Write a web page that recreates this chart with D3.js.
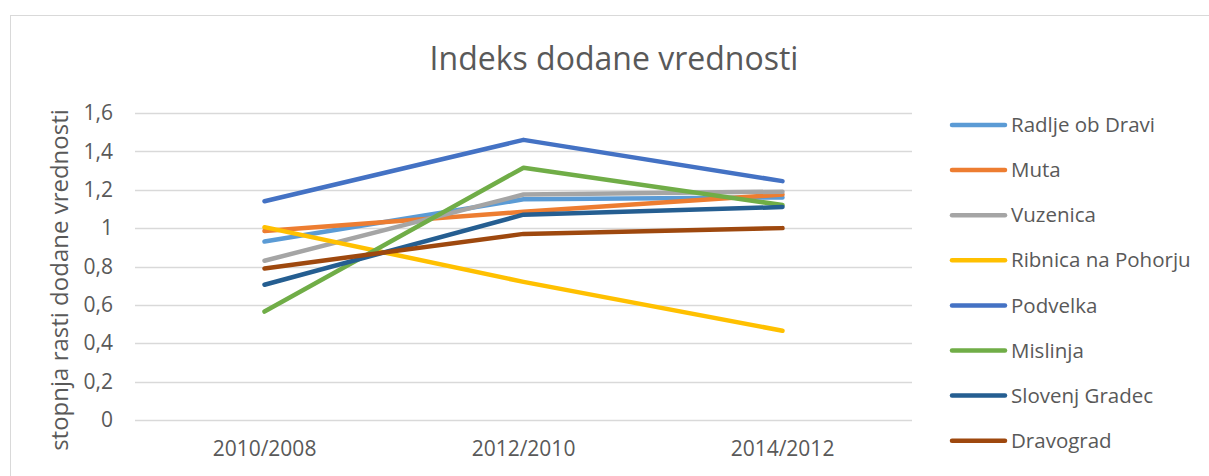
<!DOCTYPE html>
<html>
<head>
<meta charset="utf-8">
<script src="https://cdn.jsdelivr.net/npm/d3@7"></script>
<style>
  body { margin: 0; background: #fff; }
  text { font-family: "Open Sans", "Noto Sans", sans-serif; fill: #595959; }
</style>
</head>
<body>
<div id="chart"></div>
<script>
var categories = ["2010/2008", "2012/2010", "2014/2012"];
var seriesNames = ["Radlje ob Dravi", "Muta", "Vuzenica", "Ribnica na Pohorju",
                   "Podvelka", "Mislinja", "Slovenj Gradec", "Dravograd"];
var radlje   = [0.93, 1.15, 1.16];
var muta     = [0.985, 1.085, 1.175];
var vuzenica = [0.83, 1.175, 1.19];
var ribnica  = [1.005, 0.72, 0.465];
var podvelka = [1.14, 1.46, 1.245];
var mislinja = [0.565, 1.315, 1.12];
var slovenj  = [0.705, 1.07, 1.11];
var dravograd = [0.79, 0.97, 1.0];
var yTicks = [0, 0.2, 0.4, 0.6, 0.8, 1, 1.2, 1.4, 1.6];
var colors = ["#5B9BD5", "#ED7D31", "#A5A5A5", "#FFC000", "#4472C4", "#70AD47", "#255E91", "#9E480E"];

var allValues = [radlje, muta, vuzenica, ribnica, podvelka, mislinja, slovenj, dravograd];
var series = seriesNames.map(function(n, i) { return { name: n, values: allValues[i], color: colors[i] }; });

var W = 1209, H = 476;
var margin = {top: 113, right: 297, bottom: 56, left: 135},
    width = W - margin.left - margin.right,
    height = H - margin.top - margin.bottom;

var root = d3.select("#chart").append("svg")
    .attr("width", W).attr("height", H);

// outer chart frame
root.append("rect")
    .attr("x", 10.5).attr("y", 15.5)
    .attr("width", W + 20).attr("height", H + 20)
    .attr("fill", "#fff").attr("stroke", "#d9d9d9");

root.append("text")
    .attr("x", 614).attr("y", 70)
    .style("text-anchor", "middle")
    .style("font-size", "32px")
    .text("Indeks dodane vrednosti");

var svg = root.append("g")
    .attr("transform", "translate(" + margin.left + "," + margin.top + ")");

var x = d3.scaleBand().domain(categories).range([0, width]);
var y = d3.scaleLinear().domain([0, 1.6]).range([height, 0]);

var fmt = function(d) { return String(d).replace(".", ","); };

// gridlines
svg.append("g")
    .selectAll("line")
    .data(yTicks)
    .enter()
    .append("line")
        .attr("x1", 0).attr("x2", width)
        .attr("y1", function(d) { return Math.round(y(d)) + 0.5; })
        .attr("y2", function(d) { return Math.round(y(d)) + 0.5; })
        .attr("stroke", "#d9d9d9")
        .attr("stroke-width", 1.5);

var yAxis = svg.append("g")
    .call(d3.axisLeft(y).tickValues(yTicks).tickFormat(fmt).tickSize(0).tickPadding(22));
yAxis.select(".domain").remove();
yAxis.selectAll("text").style("font-size", "21px").attr("fill", "#595959");

var xAxis = svg.append("g")
    .attr("transform", "translate(0," + height + ")")
    .call(d3.axisBottom(x).tickSize(0).tickPadding(21));
xAxis.select(".domain").remove();
xAxis.selectAll("text").style("font-size", "21px").attr("fill", "#595959");

svg.append("text")
    .attr("transform", "rotate(-90)")
    .attr("x", -(280 - margin.top))
    .attr("y", -67)
    .style("text-anchor", "middle")
    .style("font-size", "24px")
    .text("stopnja rasti dodane vrednosti");

var line = d3.line()
    .x(function(d, i) { return x(categories[i]) + x.bandwidth() / 2; })
    .y(function(d) { return y(d); });

svg.append("g")
    .selectAll("path")
    .data(series)
    .enter()
    .append("path")
        .attr("fill", "none")
        .attr("stroke", function(d) { return d.color; })
        .attr("stroke-width", 4.5)
        .attr("stroke-linecap", "round")
        .attr("stroke-linejoin", "round")
        .attr("d", function(d) { return line(d.values); });

// legend
var legend = root.append("g")
    .selectAll("g")
    .data(series)
    .enter()
    .append("g")
        .attr("transform", function(d, i) { return "translate(952," + (125 + i * 45.1) + ")"; });

legend.append("line")
    .attr("x1", 0).attr("x2", 53)
    .attr("stroke", function(d) { return d.color; })
    .attr("stroke-width", 4.5)
    .attr("stroke-linecap", "round");

legend.append("text")
    .attr("x", 59).attr("dy", "0.35em")
    .style("font-size", "20.5px")
    .text(function(d) { return d.name; });
</script>
</body>
</html>
